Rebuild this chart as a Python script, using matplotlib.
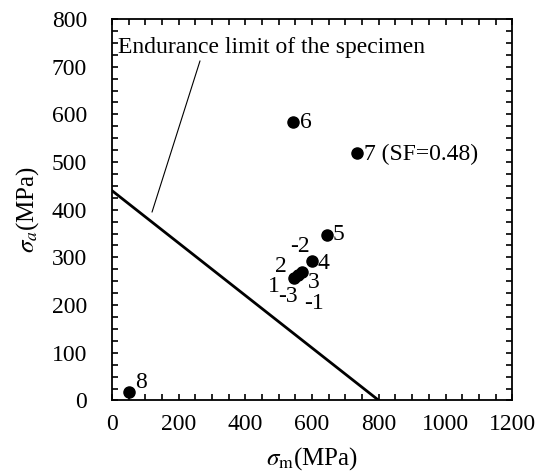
import matplotlib
matplotlib.use("Agg")
import matplotlib.pyplot as plt
from matplotlib.ticker import MultipleLocator

plt.rcParams['font.family'] = ['Liberation Serif', 'DejaVu Serif']
plt.rcParams['mathtext.fontset'] = 'stix'

# data
labels = ['8', '6', '7', '5', '4', '1', '2', '3']
sigma_m = [50, 542, 736, 644, 600, 547, 557, 570]
sigma_a = [17, 583, 518, 347, 293, 256, 263, 270]

# extra labels around the cluster (points hidden behind the others)
extra_labels = ['-2', '2', '1', '-3', '3', '-1']
extra_x = [565, 505, 484, 529, 605, 605]
extra_y = [322, 280, 238, 217, 248, 204]

# endurance limit line
limit_m = [0, 800]
limit_a = [440, 0]

fig = plt.figure(figsize=(5.49, 4.75), dpi=100)
ax = fig.add_axes([0.204, 0.157, 0.729, 0.803])

ax.plot(limit_m, limit_a, color='black', lw=2.0)
ax.plot(sigma_m, sigma_a, 'o', color='black', ms=8)

offsets = {'7': (5, -1), '6': (5, 0), '5': (4, 0), '4': (4, -2), '8': (5, 7)}
for lab, x, y in zip(labels, sigma_m, sigma_a):
    if lab in offsets:
        t = lab + ' (SF=0.48)' if lab == '7' else lab
        ax.annotate(t, (x, y), xytext=offsets[lab], textcoords='offset points',
                    fontsize=17, va='center', ha='left')

for lab, x, y in zip(extra_labels, extra_x, extra_y):
    ax.text(x, y, lab, fontsize=17, ha='center', va='center')

ax.annotate('Endurance limit of the specimen', xy=(120, 395), xytext=(18, 740),
            fontsize=17, ha='left', va='center',
            arrowprops=dict(arrowstyle='-', color='black', lw=0.8,
                            shrinkA=0, shrinkB=0, relpos=(0.27, 0)))

ax.set_xlim(0, 1200)
ax.set_ylim(0, 800)
ax.xaxis.set_major_locator(MultipleLocator(200))
ax.xaxis.set_minor_locator(MultipleLocator(50))
ax.yaxis.set_major_locator(MultipleLocator(100))
ax.yaxis.set_minor_locator(MultipleLocator(25))
ax.tick_params(which='both', direction='in', top=True, right=True,
               length=4, width=1.2, labelsize=17)
ax.tick_params(axis='x', pad=10)
ax.tick_params(axis='y', pad=18)
for s in ax.spines.values():
    s.set_linewidth(1.3)

ax.set_xlabel(r'$\sigma_{\rm m}$(MPa)', fontsize=18, labelpad=7)
ax.set_ylabel(r'$\sigma_a$(MPa)', fontsize=18, labelpad=8)

fig.savefig('out.png', dpi=100)
